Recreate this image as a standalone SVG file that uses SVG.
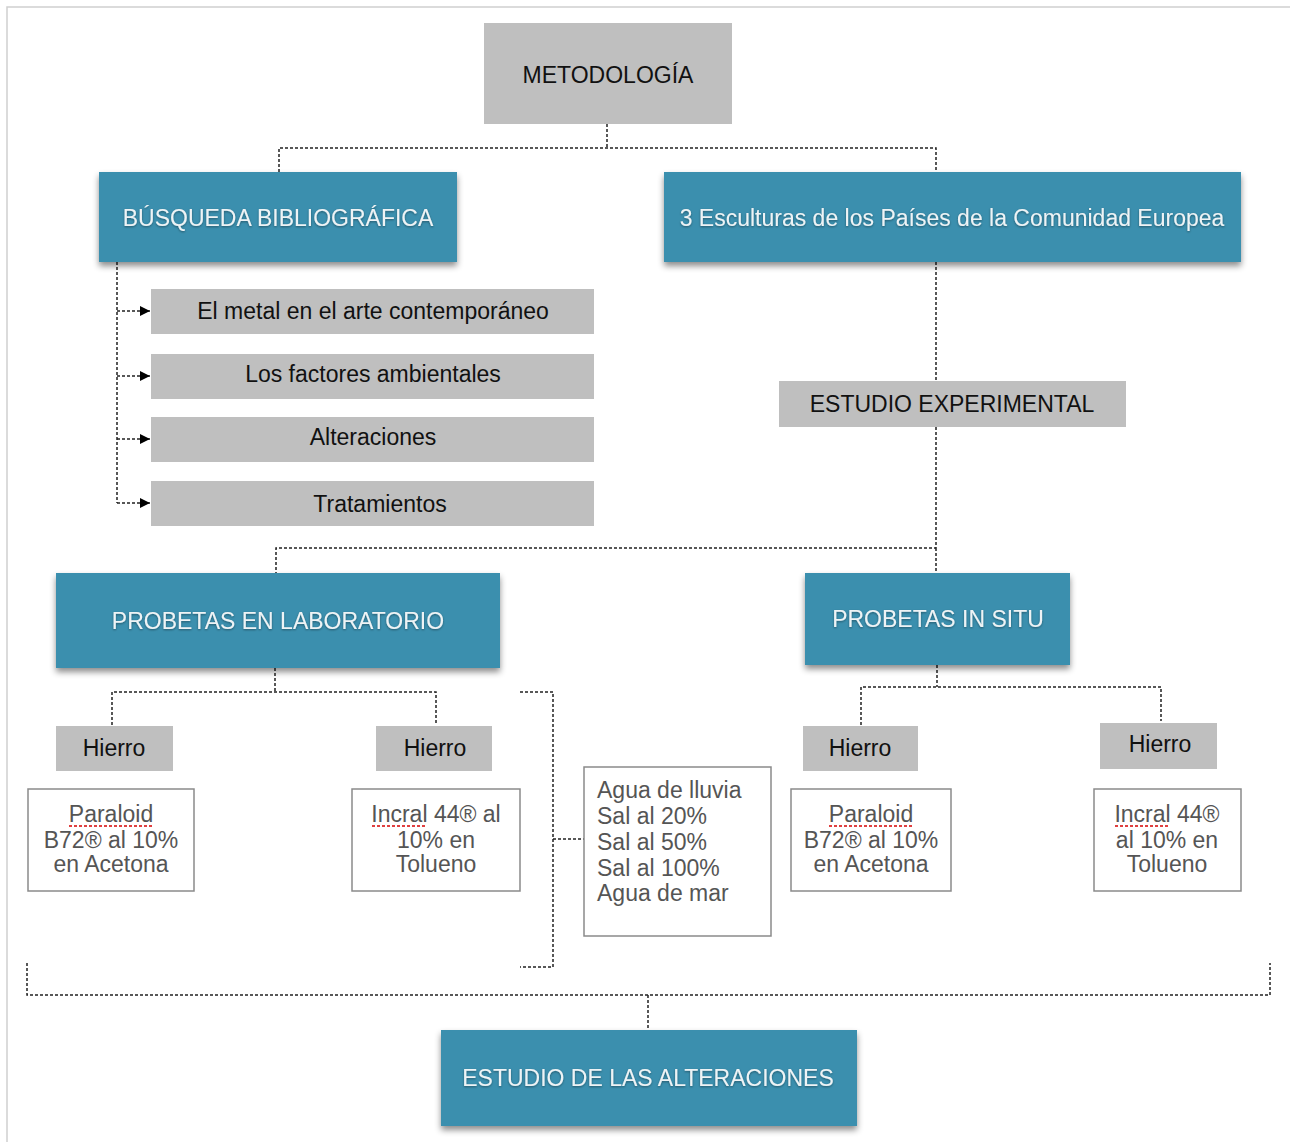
<svg xmlns="http://www.w3.org/2000/svg" width="1290" height="1142" viewBox="0 0 1290 1142">
<defs>
<filter id="sh" x="-10%" y="-10%" width="120%" height="140%">
<feDropShadow dx="0" dy="4" stdDeviation="3" flood-color="#000" flood-opacity="0.45"/>
</filter>
<filter id="tsh" x="-5%" y="-20%" width="110%" height="140%">
<feDropShadow dx="0" dy="1" stdDeviation="1" flood-color="#000" flood-opacity="0.4"/>
</filter>
<marker id="arr" viewBox="0 0 10 10" refX="10" refY="5" markerWidth="10" markerHeight="10" markerUnits="userSpaceOnUse" orient="auto">
<path d="M0,0 L10,5 L0,10 z" fill="#000"/>
</marker>
<style>
text{font-family:"Liberation Sans",Arial,sans-serif;font-size:23px;text-anchor:middle}
.gray{fill:#bfbfbf}
.teal{fill:#3b8fae;filter:url(#sh)}
.tt{fill:#eef3f5;filter:url(#tsh)}
.dk{fill:#111}
.wb{fill:#fff;stroke:#8a8a8a;stroke-width:1.5}
.gt{fill:#555}
.c{fill:none;stroke:#222;stroke-width:1.5;stroke-dasharray:3,2}
.sp{stroke:#e04040;stroke-width:2;stroke-dasharray:3,2;fill:none}
</style>
</defs>
<rect width="1290" height="1142" fill="#fff"/>
<path d="M7,1142 V7 H1290" fill="none" stroke="#d0d0d0" stroke-width="1.5"/>

<g id="connectors">
<path class="c" d="M607,124 V148 M279,172 V148 H936 V172"/>
<path class="c" d="M117,262 V503"/>
<path class="c" d="M117,311 H150" marker-end="url(#arr)"/>
<path class="c" d="M117,376 H150" marker-end="url(#arr)"/>
<path class="c" d="M117,439 H150" marker-end="url(#arr)"/>
<path class="c" d="M117,503 H150" marker-end="url(#arr)"/>
<path class="c" d="M936,262 V381"/>
<path class="c" d="M936,427 V548 H276 V573 M936,548 V573"/>
<path class="c" d="M275,668 V692 M112,725 V692 H436 V725"/>
<path class="c" d="M520,692 H553 V967 H520 M553,839 H584"/>
<path class="c" d="M937,665 V687 M861,725 V687 H1161 V721"/>
<path class="c" d="M27,963 V995 H1270 V963 M648,995 V1030"/>
</g>

<g id="metodologia"><rect class="gray" x="484" y="23" width="248" height="101"/><text class="dk" x="608" y="83">METODOLOGÍA</text></g>

<g id="busqueda"><rect class="teal" x="99" y="172" width="358" height="90"/><text class="tt" x="278" y="226">BÚSQUEDA BIBLIOGRÁFICA</text></g>
<g id="esculturas"><rect class="teal" x="664" y="172" width="577" height="90"/><text class="tt" x="952" y="226">3 Esculturas de los Países de la Comunidad Europea</text></g>

<g id="metal"><rect class="gray" x="151" y="289" width="443" height="45"/><text class="dk" x="373" y="319">El metal en el arte contemporáneo</text></g>
<g id="factores"><rect class="gray" x="151" y="354" width="443" height="45"/><text class="dk" x="373" y="382">Los factores ambientales</text></g>
<g id="alteraciones"><rect class="gray" x="151" y="417" width="443" height="45"/><text class="dk" x="373" y="445">Alteraciones</text></g>
<g id="tratamientos"><rect class="gray" x="151" y="481" width="443" height="45"/><text class="dk" x="380" y="512">Tratamientos</text></g>

<g id="experimental"><rect class="gray" x="779" y="381" width="347" height="46"/><text class="dk" x="952" y="412">ESTUDIO EXPERIMENTAL</text></g>

<g id="laboratorio"><rect class="teal" x="56" y="573" width="444" height="95"/><text class="tt" x="278" y="629">PROBETAS EN LABORATORIO</text></g>
<g id="insitu"><rect class="teal" x="805" y="573" width="265" height="92"/><text class="tt" x="938" y="627">PROBETAS IN SITU</text></g>

<g id="hierro1"><rect class="gray" x="56" y="726" width="117" height="45"/><text class="dk" x="114" y="756">Hierro</text></g>
<g id="hierro2"><rect class="gray" x="376" y="726" width="116" height="45"/><text class="dk" x="435" y="756">Hierro</text></g>
<g id="hierro3"><rect class="gray" x="803" y="726" width="115" height="45"/><text class="dk" x="860" y="756">Hierro</text></g>
<g id="hierro4"><rect class="gray" x="1100" y="723" width="117" height="46"/><text class="dk" x="1160" y="752">Hierro</text></g>

<g id="paraloid1"><rect class="wb" x="28" y="789" width="166" height="102"/>
<text class="gt" x="111" y="822">Paraloid</text><text class="gt" x="111" y="848">B72® al 10%</text><text class="gt" x="111" y="872">en Acetona</text>
<path class="sp" d="M69,826 H153"/></g>
<g id="incral1"><rect class="wb" x="352" y="789" width="168" height="102"/>
<text class="gt" x="436" y="822">Incral 44® al</text><text class="gt" x="436" y="848">10% en</text><text class="gt" x="436" y="872">Tolueno</text>
<path class="sp" d="M372,826 H426"/></g>
<g id="agua"><rect class="wb" x="584" y="767" width="187" height="169"/>
<text class="gt" x="597" y="798" style="text-anchor:start">Agua de lluvia</text>
<text class="gt" x="597" y="824" style="text-anchor:start">Sal al 20%</text>
<text class="gt" x="597" y="850" style="text-anchor:start">Sal al 50%</text>
<text class="gt" x="597" y="876" style="text-anchor:start">Sal al 100%</text>
<text class="gt" x="597" y="901" style="text-anchor:start">Agua de mar</text></g>
<g id="paraloid2"><rect class="wb" x="791" y="789" width="160" height="102"/>
<text class="gt" x="871" y="822">Paraloid</text><text class="gt" x="871" y="848">B72® al 10%</text><text class="gt" x="871" y="872">en Acetona</text>
<path class="sp" d="M829,826 H913"/></g>
<g id="incral2"><rect class="wb" x="1094" y="789" width="147" height="102"/>
<text class="gt" x="1167" y="822">Incral 44®</text><text class="gt" x="1167" y="848">al 10% en</text><text class="gt" x="1167" y="872">Tolueno</text>
<path class="sp" d="M1115,826 H1169"/></g>

<g id="estudio-alteraciones"><rect class="teal" x="441" y="1030" width="416" height="96"/><text class="tt" x="648" y="1086">ESTUDIO DE LAS ALTERACIONES</text></g>
</svg>
